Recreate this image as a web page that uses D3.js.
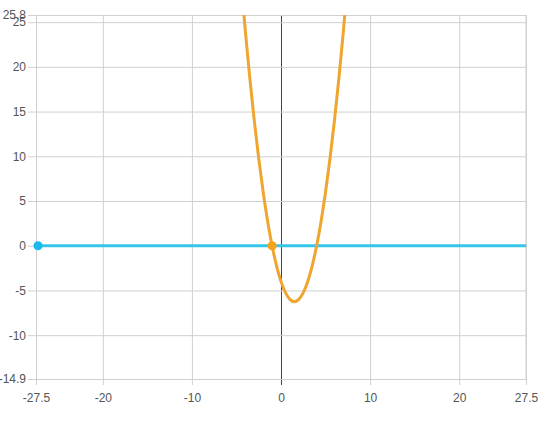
<!DOCTYPE html>
<html>
<head>
<meta charset="utf-8">
<script src="https://cdn.jsdelivr.net/npm/d3@7"></script>
<style>
  body { margin: 0; background: #fff; }
  text { font-family: "Liberation Sans", Arial, sans-serif; }
</style>
</head>
<body>
<div id="chart"></div>
<script>
var param = {
  width : 551,
  height : 430,
  left : 36,
  right : 25,
  top : 15,
  bottom : 51
}

// tick labels
var xTicks = [-27.5, -20, -10, 0, 10, 20, 27.5];
var yTicks = [-14.9, -10, -5, 0, 5, 10, 15, 20, 25, 25.8];

// parabola
var curveX = [-4.2, -4, -3.5, -3, -2.5, -2, -1.5, -1, -0.5, 0, 0.5, 1, 1.5, 2, 2.5, 3, 3.5, 4, 4.5, 5, 5.5, 6, 6.5, 7, 7.2];
var curveY = [26.24, 24, 18.75, 14, 9.75, 6, 2.75, 0, -2.25, -4, -5.25, -6, -6.25, -6, -5.25, -4, -2.25, 0, 2.75, 6, 9.75, 14, 18.75, 24, 26.24];

// horizontal line
var lineX = [-27.5, 27.5];
var lineY = [0, 0];

// marked points
var orangeDot = [-1, 0];
var blueDot = [-27.5, 0];

function draw() {
  var svg = d3.select("#chart")
              .append("svg")
              .attr("width", param.width)
              .attr("height", param.height);

  var x = d3.scaleLinear()
            .domain([xTicks[0], xTicks[xTicks.length - 1]])
            .range([param.left, param.width - param.right]);
  var y = d3.scaleLinear()
            .domain([yTicks[0], yTicks[yTicks.length - 1]])
            .range([param.height - param.bottom, param.top]);

  var plotW = param.width - param.left - param.right;
  var plotH = param.height - param.top - param.bottom;

  // grid + axes
  var xAxis = svg.append("g")
                 .attr("transform", "translate(0," + (param.height - param.bottom) + ")")
                 .call(d3.axisBottom(x).tickValues(xTicks).tickSize(6).tickPadding(8).tickFormat(function(d) {return d}));
  xAxis.selectAll(".tick line")
       .attr("y2", -plotH)
       .attr("y1", 6)
       .style("stroke", function(d) {return d === 0 ? "#444" : "#d0d0d0"});

  var yAxis = svg.append("g")
                 .attr("transform", "translate(" + param.left + ",0)")
                 .call(d3.axisLeft(y).tickValues(yTicks).tickPadding(4).tickFormat(function(d) {return d}));
  yAxis.selectAll(".tick line")
       .attr("x1", -8)
       .attr("x2", plotW)
       .style("stroke", "#d0d0d0");

  svg.selectAll(".domain").remove();
  svg.selectAll(".tick text")
     .style("font-size", "12px")
     .style("fill", "#555");

  // right edge line
  svg.append("line")
     .attr("x1", x(xTicks[xTicks.length - 1])).attr("x2", x(xTicks[xTicks.length - 1]))
     .attr("y1", param.top).attr("y2", param.height - param.bottom)
     .style("stroke", "#d0d0d0");

  svg.append("clipPath")
     .attr("id", "clip")
     .append("rect")
     .attr("x", param.left).attr("y", param.top)
     .attr("width", plotW).attr("height", plotH);

  var line = d3.line()
               .x(function(d) {return x(d[0])})
               .y(function(d) {return y(d[1])});

  svg.append("path")
     .datum(lineX.map(function(v, i) {return [v, lineY[i]]}))
     .attr("d", line)
     .style("fill", "none")
     .style("stroke", "#36c5e8")
     .style("stroke-width", 3);

  svg.append("path")
     .datum(curveX.map(function(v, i) {return [v, curveY[i]]}))
     .attr("clip-path", "url(#clip)")
     .attr("d", line.curve(d3.curveNatural))
     .style("fill", "none")
     .style("stroke", "#efa52e")
     .style("stroke-width", 3);

  svg.append("circle")
     .attr("cx", x(blueDot[0]) + 2).attr("cy", y(blueDot[1]))
     .attr("r", 4.5)
     .style("fill", "#18b9ec");

  svg.append("circle")
     .attr("cx", x(orangeDot[0])).attr("cy", y(orangeDot[1]))
     .attr("r", 4.5)
     .style("fill", "#f7a21b");
}

draw();
</script>
</body>
</html>
